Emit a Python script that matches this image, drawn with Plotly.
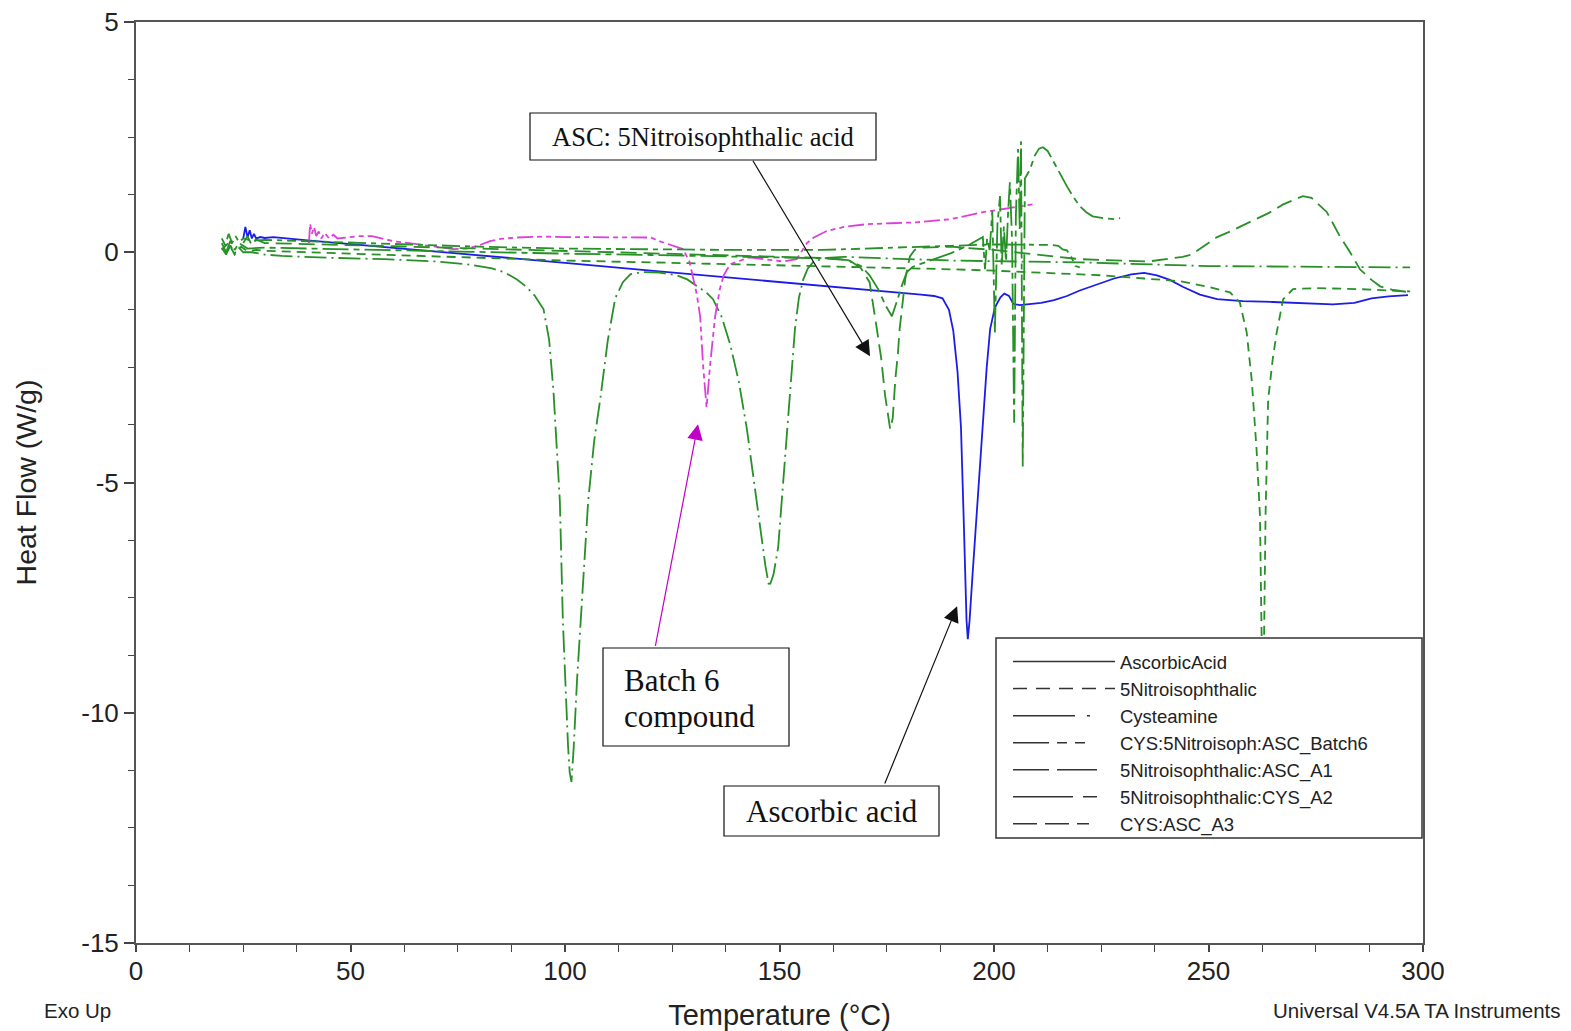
import plotly.graph_objects as go

# ---------------- data ----------------
asc_T = [25.0, 25.5, 26.0, 26.5, 27.0, 27.5, 28.0, 29.0, 30.0, 32, 40, 60, 80, 100, 120, 140, 160, 175, 183, 186,
         188, 189.5, 190.5, 191.5, 192.3, 193.0, 193.6, 193.9, 194.3, 195.0, 196.3, 197.4, 198.3, 199.1, 200.2,
         201.5, 202.4, 203.5, 204.5, 206, 208, 211, 214, 217, 220, 224, 228, 232, 235, 238, 241, 244, 248, 252,
         258, 265, 272, 279, 284, 288, 292, 296.5]
asc_HF = [0.30, 0.55, 0.32, 0.48, 0.30, 0.40, 0.30, 0.33, 0.31, 0.33, 0.26, 0.10, -0.07, -0.23, -0.40, -0.56, -0.72,
          -0.85, -0.92, -0.95, -1.0, -1.25, -1.7, -2.6, -3.8, -6.0, -8.0, -8.4, -8.0, -7.0, -5.2, -3.8, -2.5, -1.67,
          -1.2, -0.98, -0.9, -0.95, -1.12, -1.15, -1.13, -1.1, -1.04, -0.95, -0.83, -0.7, -0.57, -0.48, -0.45, -0.5,
          -0.6, -0.75, -0.92, -1.02, -1.06, -1.08, -1.1, -1.13, -1.1, -1.0, -0.96, -0.93]

nit_T = [20, 21.5, 23, 24.5, 26, 28, 30, 40, 60, 80, 100, 120, 140, 160, 180, 190, 200, 210, 225, 235, 243.4,
         250, 255, 257.3, 258.9, 260.1, 261.2, 262.0, 262.4, 262.7, 263.0, 263.3, 263.9, 265.0, 265.9, 267.4,
         269.7, 275, 285, 297]
nit_HF = [0.05, 0.2, -0.05, 0.12, 0.02, 0.05, 0.03, 0.0, -0.06, -0.12, -0.18, -0.22, -0.26, -0.3, -0.34, -0.37,
          -0.4, -0.44, -0.5, -0.57, -0.63, -0.75, -0.87, -1.09, -1.74, -2.8, -4.28, -5.73, -8.4, -10.5, -8.0, -5.7,
          -3.2, -2.3, -1.74, -1.02, -0.8, -0.78, -0.8, -0.85]

cys_T = [20, 21, 22, 23, 24, 25, 27, 30, 34, 45, 58, 70, 77, 83, 86, 88.8, 91, 93, 95, 96.3, 97.3, 98.2, 98.8,
         99.5, 100.2, 100.7, 101.1, 101.5, 102.0, 102.8, 104.0, 105.4, 106.8, 108.2, 110, 111.7, 113.5, 115.2,
         118, 122, 126, 128.5, 131, 133, 134.5, 136.5, 138.5, 140.5, 142.4, 144, 145.5, 146.7, 147.6, 148.6,
         149.7, 150.7, 151.7, 152.7, 153.6, 154.5, 155.5, 156.6, 158, 161, 165, 190, 220, 250, 297]
cys_HF = [0.1, -0.05, 0.15, -0.02, 0.1, 0.0, 0.0, -0.05, -0.08, -0.12, -0.15, -0.2, -0.26, -0.35, -0.44, -0.59,
          -0.75, -0.95, -1.24, -1.9, -3.0, -4.3, -5.4, -8.0, -9.8, -10.7, -11.3, -11.5, -10.8, -9.3, -7.5, -5.4,
          -4.1, -3.2, -1.9, -1.0, -0.65, -0.48, -0.43, -0.44, -0.5, -0.59, -0.75, -0.88, -1.02, -1.4, -2.0, -2.8,
          -3.84, -4.9, -5.9, -6.8, -7.27, -7.0, -6.4, -5.2, -3.84, -2.6, -1.67, -1.0, -0.6, -0.35, -0.2, -0.12,
          -0.1, -0.18, -0.22, -0.3, -0.33]

b6_T = [40.3, 40.6, 41.0, 41.5, 42.0, 42.6, 43.2, 44, 45, 46, 47, 48.7, 52, 55, 57, 60, 65, 70, 74, 77, 80, 82.5,
        85, 88.8, 95, 100.5, 108, 115, 120, 122, 124, 127.5, 129, 129.8, 130.7, 131.5, 132.2, 133, 133.8, 135,
        136.1, 137, 138.5, 143, 147, 150.8, 154, 156.4, 158, 161, 165, 170.4, 176, 182, 190, 197.4, 203, 209]
b6_HF = [0.2, 0.62, 0.4, 0.55, 0.35, 0.45, 0.3, 0.42, 0.3, 0.38, 0.3, 0.32, 0.35, 0.35, 0.3, 0.24, 0.18, 0.12,
         0.07, 0.08, 0.15, 0.24, 0.29, 0.32, 0.34, 0.33, 0.33, 0.33, 0.32, 0.24, 0.18, 0.07, -0.2, -0.52, -0.9,
         -1.39, -2.47, -3.37, -2.47, -1.39, -0.8, -0.5, -0.26, -0.11, -0.15, -0.2, -0.15, 0.2, 0.32, 0.46, 0.55,
         0.61, 0.63, 0.65, 0.72, 0.87, 0.95, 1.04]

a1_T = [25, 26, 27, 28, 30, 40, 60, 80, 100, 120, 140, 155, 162, 165, 167, 169, 171, 172.7, 173.7, 174.6, 175.3,
        175.8, 176.4, 177, 177.6, 178, 178.7, 179.3, 180.4, 181.5, 182.8, 190, 200, 210, 220, 236, 244, 246, 252,
        255, 259.7, 264, 267.4, 270, 272, 274, 277.6, 280.6, 283, 285.3, 288, 290, 293, 297]
a1_HF = [0.2, 0.35, 0.15, 0.28, 0.2, 0.18, 0.13, 0.08, 0.03, -0.02, -0.07, -0.1, -0.13, -0.16, -0.22, -0.35,
         -0.65, -1.67, -2.3, -3.1, -3.6, -3.84, -3.6, -2.76, -2.2, -1.67, -1.1, -0.59, -0.09, 0.05, 0.1, 0.12,
         0.05, -0.05, -0.15, -0.2, -0.1, -0.05, 0.33, 0.45, 0.65, 0.85, 1.04, 1.15, 1.22, 1.18, 0.87, 0.35, 0.0,
         -0.37, -0.6, -0.74, -0.82, -0.87]

a2_T = [20, 21, 22, 23, 24, 26, 30, 40, 60, 80, 100, 120, 140, 160, 166, 169, 171, 173, 174.8, 176.2, 177.6,
        178.6, 179.7, 181, 182.7, 186, 190, 194, 197.4, 197.9, 198.4, 199.0, 199.6, 200.2, 200.8, 201.4, 201.8,
        202.3, 202.8, 203.3, 203.7, 204.2, 204.7, 205.1, 205.6, 206.0, 206.3, 206.7, 207.2, 207.8, 208.4, 209.5,
        210.5, 211.4, 212.5, 213.7, 215.3, 217, 218.5, 220, 221.5, 223, 225.5, 228, 229.4]
a2_HF = [0.2, 0.0, 0.25, 0.05, 0.2, 0.08, 0.1, 0.08, 0.04, 0.0, -0.03, -0.06, -0.1, -0.13, -0.17, -0.3, -0.5,
         -0.8, -1.17, -1.39, -1.0, -0.7, -0.43, -0.32, -0.26, -0.15, -0.02, 0.15, 0.33, -0.37, 0.3, 0.05, 0.9,
         -1.74, 0.6, 1.22, -0.3, 0.56, -0.2, 0.9, 1.52, 0.3, -3.7, 0.8, 2.24, 0.5, 2.41, -4.65, 1.6, 1.7, 1.8,
         2.1, 2.25, 2.28, 2.2, 2.0, 1.72, 1.43, 1.2, 1.0, 0.87, 0.78, 0.74, 0.72, 0.74]

a3_T = [20, 20.8, 21.6, 22.4, 23.2, 24, 25, 27, 30, 40, 60, 80, 100, 120, 140, 160, 180, 190, 200, 208, 213, 215,
        216, 217, 218, 219, 220]
a3_HF = [0.3, 0.15, 0.4, 0.2, 0.35, 0.22, 0.3, 0.25, 0.27, 0.24, 0.18, 0.12, 0.08, 0.06, 0.05, 0.05, 0.1, 0.14,
         0.17, 0.17, 0.16, 0.14, 0.06, 0.04, -0.1, -0.3, -0.33]

series_names = ["AscorbicAcid", "5Nitroisophthalic", "Cysteamine", "CYS:5Nitroisoph:ASC_Batch6",
                "5Nitroisophthalic:ASC_A1", "5Nitroisophthalic:CYS_A2", "CYS:ASC_A3"]
x_tick_vals = [0, 50, 100, 150, 200, 250, 300]
x_tick_text = ["0", "50", "100", "150", "200", "250", "300"]
y_tick_vals = [5, 0, -5, -10, -15]
y_tick_text = ["5", "0", "-5", "-10", "-15"]

# ---------------- styles ----------------
GREEN = "#279027"
BLUE = "#1c1ce6"
MAGENTA = "#dd3fdd"
LEG = "#333333"
styles = [
    (asc_T, asc_HF, BLUE, "solid", "solid"),
    (nit_T, nit_HF, GREEN, "9px,6px", "14px,9px"),
    (cys_T, cys_HF, GREEN, "22px,5px,2px,5px", "62px,12px,3px,40px"),
    (b6_T, b6_HF, MAGENTA, "16px,4px,5px,4px,5px,4px", "36px,8px,10px,8px,10px,40px"),
    (a1_T, a1_HF, GREEN, "16px,7px", "36px,8px,40px,30px"),
    (a2_T, a2_HF, GREEN, "26px,5px,6px,5px", "60px,10px,14px,30px"),
    (a3_T, a3_HF, GREEN, "9px,5px,18px,5px,5px,5px", "24px,8px,24px,8px,12px,30px"),
]

fig = go.Figure()
# curves
for name, (xs, ys, col, dash, _) in zip(series_names, styles):
    fig.add_trace(go.Scatter(x=xs, y=ys, mode="lines", name=name, showlegend=False,
                             line=dict(color=col, width=1.8, dash=dash)))
# legend entries (drawn in dark grey like the instrument software)
for name, (_, _, _, _, ldash) in zip(series_names, styles):
    fig.add_trace(go.Scatter(x=[None], y=[None], mode="lines", name=name, showlegend=True,
                             line=dict(color=LEG, width=1.5, dash=ldash)))

SANS = "Arial, Liberation Sans, sans-serif"
AX_FONT = dict(family=SANS, size=26, color="#222")

fig.update_layout(
    width=1571, height=1031,
    margin=dict(l=136, r=148, t=22, b=88),
    paper_bgcolor="white", plot_bgcolor="white",
    showlegend=True,
    legend=dict(x=(1008 - 136) / 1287, y=(943 - 643) / 921, xanchor="left", yanchor="top",
                bgcolor="rgba(0,0,0,0)", borderwidth=0, itemwidth=102,
                font=dict(family=SANS, size=18.5, color="#222")),
    xaxis=dict(range=[0, 300], tickmode="array", tickvals=x_tick_vals, ticktext=x_tick_text,
               ticks="outside", ticklen=7, tickwidth=1.5, tickcolor="#444", automargin=False,
               ticklabelstandoff=-3,
               showline=True, linecolor="#555", linewidth=2, mirror=True,
               showgrid=False, zeroline=False, tickfont=AX_FONT,
               minor=dict(tickmode="linear", tick0=0, dtick=12.5, ticks="outside", ticklen=7,
                          tickwidth=1.2, tickcolor="#444", showgrid=False),
               title=dict(text="Temperature (°C)", standoff=21,
                          font=dict(family=SANS, size=29, color="#222"))),
    yaxis=dict(range=[-15, 5], tickmode="array", tickvals=y_tick_vals, ticktext=y_tick_text,
               ticks="outside", ticklen=10, tickwidth=1.5, tickcolor="#444", automargin=False,
               showline=True, linecolor="#555", linewidth=2, mirror=True,
               showgrid=False, zeroline=False, tickfont=AX_FONT,
               minor=dict(tickmode="linear", tick0=0, dtick=1.25, ticks="outside", ticklen=6,
                          tickwidth=1.2, tickcolor="#444", showgrid=False),
               title=dict(text="Heat Flow (W/g)", standoff=36,
                          font=dict(family=SANS, size=28.5, color="#222"))),
)


def px_x(px):
    return (px - 136) / 1287


def px_y(py):
    return (943 - py) / 921


# legend frame (covers the curve behind it, as in the reference)
fig.add_shape(type="rect", xref="paper", yref="paper", x0=px_x(996), x1=px_x(1422), y0=px_y(838), y1=px_y(638),
              line=dict(color="#333", width=1.5), fillcolor="white", layer="above")

# annotation boxes
for x0, x1, y0, y1 in [(530, 876, 113, 160), (603, 789, 648, 746), (724, 939, 786, 836)]:
    fig.add_shape(type="rect", xref="paper", yref="paper", x0=px_x(x0), x1=px_x(x1), y0=px_y(y1), y1=px_y(y0),
                  line=dict(color="#111", width=1.2), fillcolor="white", layer="above")

SERIF = "Times New Roman, Liberation Serif, serif"
labels = [
    ("ASC: 5Nitroisophthalic acid", 703, 137, "center", 26.5),
    ("Batch 6", 622, 680, "left", 31),
    ("compound", 622, 716, "left", 31),
    ("Ascorbic acid", 831.5, 812, "center", 31),
]
for txt, lx, ly, anc, fs in labels:
    fig.add_annotation(xref="paper", yref="paper", x=px_x(lx), y=px_y(ly), xanchor=anc, yanchor="middle",
                       text=txt, showarrow=False, font=dict(family=SERIF, size=fs, color="#111"))

# arrows
arrows = [
    (143.6, 2.02, 171.1, -2.26, "#111"),
    (121.0, -8.58, 131.0, -3.735, "#c000c8"),
    (174.4, -11.57, 191.4, -7.69, "#111"),
]
for tx, ty, hx, hy, col in arrows:
    fig.add_annotation(x=hx, y=hy, ax=tx, ay=ty, xref="x", yref="y", axref="x", ayref="y",
                       text="", showarrow=True, arrowhead=2, arrowsize=2.6, arrowwidth=1.2,
                       arrowcolor=col, standoff=0, startstandoff=0)

# footer texts
fig.add_annotation(xref="paper", yref="paper", x=px_x(42), y=px_y(1010),
                   xanchor="left", yanchor="middle", text="Exo Up", showarrow=False,
                   font=dict(family=SANS, size=20.5, color="#222"))
fig.add_annotation(xref="paper", yref="paper", x=px_x(1563), y=px_y(1010),
                   xanchor="right", yanchor="middle", text="Universal V4.5A TA Instruments", showarrow=False,
                   font=dict(family=SANS, size=20.5, color="#222"))

fig.write_html("out.html")
